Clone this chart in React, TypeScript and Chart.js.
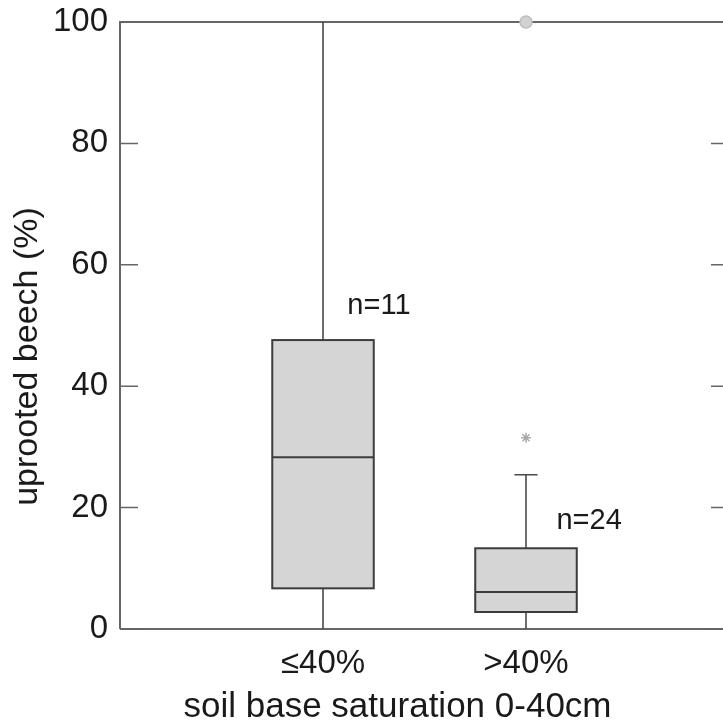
import React, { useEffect, useRef } from "react";
import { Chart, registerables } from "chart.js";

Chart.register(...registerables);

// ---- data ----
const categories = ["≤40%", ">40%"];
const whiskerLow = [0, 0];
const q1 = [6.7, 2.8];
const median = [28.3, 6.1];
const q3 = [47.6, 13.3];
const whiskerHigh = [100, 25.4];
const showCap = [false, true];
const outlierCircles = [{ group: 2, value: 100 }];
const outlierStars = [{ group: 2, value: 31.5 }];
const nLabels = ["n=11", "n=24"];
const nLabelX = [1.12, 2.15];
const nLabelY = [53.2, 17.8];
const yTicks = [0, 20, 40, 60, 80, 100];
const yTitle = "uprooted beech (%)";
const xTitle = "soil base saturation 0-40cm";

const FONT = "'Liberation Sans', Arial, Helvetica, sans-serif";
const TEXT = "#1a1a1a";
const FRAME = "#666666";

const boxPlugin = {
  id: "boxPlugin",
  beforeDatasetsDraw(chart: any) {
    const { ctx, chartArea, scales } = chart;
    const x = scales.x;
    const y = scales.y;
    ctx.save();
    // frame
    ctx.strokeStyle = FRAME;
    ctx.lineWidth = 2;
    ctx.beginPath();
    ctx.moveTo(chartArea.left, chartArea.bottom);
    ctx.lineTo(chartArea.left, chartArea.top);
    ctx.lineTo(chartArea.right, chartArea.top);
    ctx.lineTo(chartArea.right, chartArea.bottom);
    ctx.lineTo(chartArea.left, chartArea.bottom);
    ctx.stroke();
    // inward ticks
    ctx.lineWidth = 1.5;
    ctx.beginPath();
    yTicks.forEach((t) => {
      const py = y.getPixelForValue(t);
      ctx.moveTo(chartArea.left, py);
      ctx.lineTo(chartArea.left + 18, py);
      ctx.moveTo(chartArea.right, py);
      ctx.lineTo(chartArea.right - 18, py);
    });
    ctx.stroke();

    const halfW = 0.25;
    const capHalf = 0.057;
    categories.forEach((_, i) => {
      const cx = x.getPixelForValue(i + 1);
      const l = x.getPixelForValue(i + 1 - halfW);
      const r = x.getPixelForValue(i + 1 + halfW);
      const pQ1 = y.getPixelForValue(q1[i]);
      const pQ3 = y.getPixelForValue(q3[i]);
      const pMed = y.getPixelForValue(median[i]);
      const pLo = y.getPixelForValue(whiskerLow[i]);
      const pHi = y.getPixelForValue(whiskerHigh[i]);
      // whiskers
      ctx.strokeStyle = "#4a4a4a";
      ctx.lineWidth = 1.6;
      ctx.beginPath();
      ctx.moveTo(cx, pQ3);
      ctx.lineTo(cx, pHi);
      ctx.moveTo(cx, pQ1);
      ctx.lineTo(cx, pLo);
      if (showCap[i]) {
        const cl = x.getPixelForValue(i + 1 - capHalf);
        const cr = x.getPixelForValue(i + 1 + capHalf);
        ctx.moveTo(cl, pHi);
        ctx.lineTo(cr, pHi);
      }
      ctx.stroke();
      // box
      ctx.fillStyle = "#d5d5d5";
      ctx.fillRect(l, pQ3, r - l, pQ1 - pQ3);
      ctx.strokeStyle = "#3c3c3c";
      ctx.lineWidth = 2;
      ctx.strokeRect(l, pQ3, r - l, pQ1 - pQ3);
      ctx.beginPath();
      ctx.moveTo(l, pMed);
      ctx.lineTo(r, pMed);
      ctx.stroke();
      // n labels
      ctx.fillStyle = TEXT;
      ctx.font = `29px ${FONT}`;
      ctx.textAlign = "left";
      ctx.textBaseline = "middle";
      ctx.fillText(nLabels[i], x.getPixelForValue(nLabelX[i]), y.getPixelForValue(nLabelY[i]));
    });

    // axis titles
    ctx.fillStyle = TEXT;
    ctx.font = `35px ${FONT}`;
    ctx.textAlign = "center";
    ctx.textBaseline = "alphabetic";
    ctx.fillText(xTitle, (chartArea.left + chartArea.right) / 2 - 27, chart.height - 4);
    ctx.font = `34px ${FONT}`;
    ctx.translate(37, (chartArea.top + chartArea.bottom) / 2 + 31);
    ctx.rotate(-Math.PI / 2);
    ctx.fillText(yTitle, 0, 0);
    ctx.restore();
  },
};

export default function App() {
  const ref = useRef<HTMLCanvasElement>(null);
  useEffect(() => {
    if (!ref.current) return;
    const chart = new Chart(ref.current, {
      type: "scatter",
      data: {
        datasets: [
          {
            label: "outliers",
            data: outlierCircles.map((o) => ({ x: o.group, y: o.value })),
            pointStyle: "circle",
            pointRadius: 6,
            backgroundColor: "#d2d2d2",
            borderColor: "#bdbdbd",
            borderWidth: 1.5,
            clip: false,
          } as any,
          {
            label: "extremes",
            data: outlierStars.map((o) => ({ x: o.group, y: o.value })),
            pointStyle: "star",
            pointRadius: 5,
            backgroundColor: "#aaaaaa",
            borderColor: "#aaaaaa",
            borderWidth: 1.5,
            clip: false,
          } as any,
        ],
      },
      options: {
        responsive: false,
        animation: false,
        events: [],
        layout: { padding: { top: 22, right: 11, left: 0, bottom: 0 } },
        plugins: { legend: { display: false }, tooltip: { enabled: false } },
        scales: {
          x: {
            type: "linear",
            min: 0,
            max: 3,
            afterBuildTicks: (s: any) => {
              s.ticks = categories.map((_, i) => ({ value: i + 1 }));
            },
            afterFit: (s: any) => {
              s.height = 92;
              s.paddingLeft = 0;
              s.paddingRight = 0;
            },
            ticks: {
              autoSkip: false,
              maxRotation: 0,
              padding: 15,
              color: TEXT,
              font: { family: FONT, size: 33 },
              callback: (v: any) => categories[Number(v) - 1] ?? "",
            },
            grid: { display: false, drawTicks: false },
            border: { display: false },
          },
          y: {
            type: "linear",
            min: 0,
            max: 100,
            afterBuildTicks: (s: any) => {
              s.ticks = yTicks.map((v) => ({ value: v }));
            },
            afterFit: (s: any) => {
              s.width = 120;
              s.paddingTop = 0;
              s.paddingBottom = 0;
            },
            ticks: {
              padding: 12,
              color: TEXT,
              font: { family: FONT, size: 33 },
            },
            grid: { display: false, drawTicks: false },
            border: { display: false },
          },
        },
      },
      plugins: [boxPlugin],
    });
    return () => chart.destroy();
  }, []);
  return (
    <div style={{ position: "fixed", left: 0, top: 0, width: 723, height: 721, overflow: "hidden", background: "#fff" }}>
      <canvas ref={ref} width={740} height={721} style={{ display: "block" }} />
    </div>
  );
}
